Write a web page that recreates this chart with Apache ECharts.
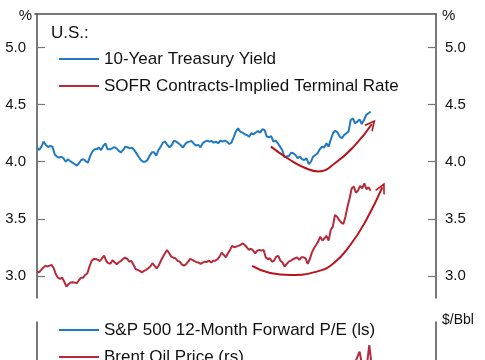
<!DOCTYPE html>
<html><head><meta charset="utf-8">
<script src="https://cdn.jsdelivr.net/npm/echarts@6/dist/echarts.min.js"></script>
<style>html,body{margin:0;padding:0;background:#fff}#c{width:485px;height:360px}</style>
</head><body><div id="c"></div>
<script>
// ---- data ----
const panelTitle = 'U.S.:';
const seriesNames = ['10-Year Treasury Yield', 'SOFR Contracts-Implied Terminal Rate'];
const lowerNames = ['S&P 500 12-Month Forward P/E (ls)', 'Brent Oil Price (rs)'];
const yTicks = [3.0, 3.5, 4.0, 4.5, 5.0];

const treasury10y = [
4.123,4.103,4.132,4.176,4.146,4.129,4.138,4.132,4.065,4.044,
4.036,4.044,4.030,4.000,4.021,4.006,3.992,3.980,3.966,3.986,
4.015,4.021,4.006,3.992,4.044,4.088,4.108,4.108,4.123,4.103,
4.138,4.161,4.108,4.108,4.117,4.129,4.117,4.094,4.082,4.103,
4.132,4.126,4.117,4.123,4.103,4.073,4.044,4.015,4.000,4.000,
4.015,4.053,4.082,4.082,4.053,4.103,4.132,4.167,4.176,4.146,
4.126,4.146,4.184,4.176,4.161,4.146,4.123,4.152,4.170,4.176,
4.181,4.158,4.141,
4.147,4.126,4.161,4.176,4.185,4.176,4.182,4.167,4.176,4.161,
4.185,4.176,4.185,4.176,4.155,4.167,4.214,4.263,4.292,4.263,
4.255,4.240,4.234,4.220,4.249,4.240,4.255,4.269,4.255,4.284,
4.278,4.220,4.214,4.225,4.176,4.185,4.161,4.132,4.103,4.039,
4.045,4.050,4.079,4.074,4.059,4.030,4.045,4.021,4.015,4.030,
3.980,4.001,4.045,4.059,4.074,4.109,4.132,4.123,4.161,4.132,
4.196,4.249,4.272,4.255,4.220,4.205,4.234,4.249,4.263,4.365,
4.380,4.336,4.351,4.371,4.330,4.365,4.409,4.424,4.438
];

const sofrTerminal = [
3.038,3.032,3.053,3.073,3.090,3.082,3.090,3.096,3.067,3.015,
2.985,2.974,2.985,2.950,2.907,2.927,2.942,2.945,2.942,2.936,
2.965,2.985,2.985,3.009,3.023,3.082,3.131,3.149,3.149,3.140,
3.131,3.155,3.178,3.131,3.111,3.108,3.137,3.120,3.102,3.120,
3.131,3.149,3.160,3.149,3.125,3.131,3.096,3.061,3.053,3.044,
3.032,3.044,3.053,3.067,3.082,3.111,3.090,3.067,3.090,3.131,
3.166,3.198,3.228,3.198,3.169,3.160,3.155,3.131,3.125,3.102,
3.090,3.102,3.125,3.149,3.140,3.131,3.120,
3.117,3.105,3.117,3.125,3.123,3.134,3.117,3.134,3.134,3.146,
3.169,3.204,3.184,3.163,3.198,3.228,3.263,3.251,3.257,3.263,
3.271,3.286,3.271,3.251,3.228,3.239,3.222,3.198,3.222,3.228,
3.222,3.228,3.163,3.146,3.155,3.125,3.134,3.169,3.175,3.134,
3.117,3.082,3.105,3.125,3.134,3.146,3.155,3.163,3.140,3.163,
3.163,3.155,3.105,3.146,3.204,3.242,3.271,3.301,3.344,3.309,
3.330,3.350,3.309,3.403,3.432,3.534,3.519,3.490,3.467,3.455,
3.519,3.607,3.680,3.767,3.782,3.729,3.747,3.788,3.767,3.811,
3.759,3.776,3.747
];

// annotation arrows, in data units [time fraction, %]
const arrowYield = [[0.701,4.132],[0.759,4.015],[0.804,3.945],[0.843,3.915],[0.894,3.989],[0.954,4.147],[1.004,4.330]];
const arrowSofr = [[0.645,3.088],[0.699,3.026],[0.759,3.009],[0.839,3.038],[0.889,3.111],[0.939,3.271],[0.987,3.490],[1.035,3.775]];

// lower panel: only the tail of Brent is visible (in $/Bbl)
const peForward = [];
const brentTail = [[0.944,78.0],[0.967,82.6],[0.975,79.0],[0.987,78.0],[0.996,84.2],[1.002,80.0]];

// ---- chart ----
const BLUE = '#2079c3', RED = '#b52b3c', ARROW = '#b8141c';
const AX = '#4d4d4d', TXT = '#111';
const FONT = '"Liberation Sans", Arial, sans-serif';
const toXY = a => a.map((v, i) => [i / (a.length - 1), v]);
const chevron = 'path://M0,10L5,0L10,10L8.4,10L5,3.2L1.6,10Z';
const withHead = (pts, rot) => pts.map((p, i) => i === pts.length - 1
  ? { value: p, symbol: chevron, symbolSize: [11, 11], symbolRotate: rot, symbolOffset: [0, 0] }
  : { value: p, symbol: 'none' });

const yCommon = (side) => ({
  type: 'value', gridIndex: 0, position: side, min: 2.807, max: 5.293,
  axisLine: { show: true, lineStyle: { color: AX, width: 1.5 } },
  axisTick: { show: true, inside: true, length: 8, customValues: yTicks, lineStyle: { color: '#777', width: 1.2 } },
  axisLabel: { customValues: yTicks, formatter: v => v.toFixed(1), margin: 9, fontSize: 15, color: TXT, fontFamily: FONT },
  splitLine: { show: false },
  name: '%', nameLocation: 'end', nameGap: -2,
  nameTextStyle: side === 'left'
    ? { align: 'right', verticalAlign: 'middle', padding: [0, 5, 0, 0], fontSize: 15, color: TXT, fontFamily: FONT }
    : { align: 'left', verticalAlign: 'middle', padding: [0, 0, 0, 6], fontSize: 15, color: TXT, fontFamily: FONT }
});

const legendBase = { orient: 'vertical', left: 54, icon: 'rect', itemWidth: 40, itemHeight: 2, selectedMode: false,
  textStyle: { fontSize: 17, color: TXT, lineHeight: 20, fontFamily: FONT } };

const chart = echarts.init(document.getElementById('c'), null, { renderer: 'canvas' });
chart.setOption({
  animation: false,
  backgroundColor: '#fff',
  title: { text: panelTitle, left: 46, top: 20, textStyle: { fontSize: 17, fontWeight: 'normal', color: TXT, fontFamily: FONT } },
  legend: [
    Object.assign({}, legendBase, { data: seriesNames, top: 44, itemGap: 7 }),
    Object.assign({}, legendBase, { data: [lowerNames[0]], top: 315 }),
    Object.assign({}, legendBase, { data: [lowerNames[1]], top: 342 })
  ],
  grid: [
    { left: 35, top: 14, width: 401, height: 284, outerBoundsMode: 'none' },
    { left: 35, top: 322, width: 401, height: 200, outerBoundsMode: 'none' }
  ],
  xAxis: [
    { type: 'value', gridIndex: 0, min: -0.006, max: 1.196, position: 'top',
      axisLine: { show: true, onZero: false, lineStyle: { color: AX, width: 1.5 } },
      axisTick: { show: false }, axisLabel: { show: false }, splitLine: { show: false } },
    { type: 'value', gridIndex: 1, min: -0.006, max: 1.196, show: false }
  ],
  yAxis: [
    yCommon('left'),
    yCommon('right'),
    { type: 'value', gridIndex: 1, position: 'left', min: 14, max: 24,
      axisLine: { show: true, lineStyle: { color: AX, width: 1.5 } },
      axisTick: { show: false }, axisLabel: { show: false }, splitLine: { show: false } },
    { type: 'value', gridIndex: 1, position: 'right', min: 40, max: 90,
      axisLine: { show: true, lineStyle: { color: AX, width: 1.5 } },
      axisTick: { show: false }, axisLabel: { show: false }, splitLine: { show: false },
      name: '$/Bbl', nameLocation: 'end', nameGap: 2,
      nameTextStyle: { align: 'left', verticalAlign: 'middle', padding: [0, 0, 0, 6], fontSize: 14, color: TXT, fontFamily: FONT } }
  ],
  series: [
    { name: seriesNames[0], type: 'line', xAxisIndex: 0, yAxisIndex: 0, data: toXY(treasury10y),
      symbol: 'none', color: BLUE, lineStyle: { width: 2, color: BLUE } },
    { name: seriesNames[1], type: 'line', xAxisIndex: 0, yAxisIndex: 0, data: toXY(sofrTerminal),
      symbol: 'none', color: RED, lineStyle: { width: 2, color: RED } },
    { name: 'arrowA', type: 'line', xAxisIndex: 0, yAxisIndex: 0, data: withHead(arrowYield, -39), smooth: 0.5,
      showSymbol: true, color: ARROW, itemStyle: { color: ARROW }, lineStyle: { width: 2, color: ARROW }, clip: false },
    { name: 'arrowB', type: 'line', xAxisIndex: 0, yAxisIndex: 0, data: withHead(arrowSofr, -26), smooth: 0.5,
      showSymbol: true, color: ARROW, itemStyle: { color: ARROW }, lineStyle: { width: 2, color: ARROW }, clip: false },
    { name: lowerNames[0], type: 'line', xAxisIndex: 1, yAxisIndex: 2, data: peForward,
      symbol: 'none', color: BLUE, lineStyle: { width: 2, color: BLUE } },
    { name: lowerNames[1], type: 'line', xAxisIndex: 1, yAxisIndex: 3, data: brentTail,
      symbol: 'none', color: RED, lineStyle: { width: 2, color: RED } }
  ]
});
</script></body></html>
